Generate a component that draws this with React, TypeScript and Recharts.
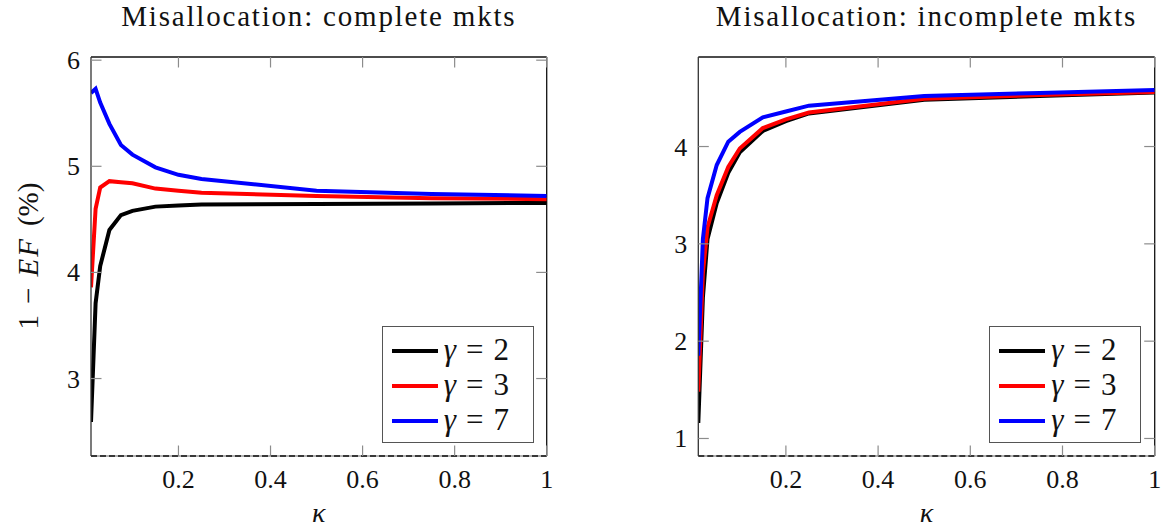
import React from 'react';
import { LineChart, Line, XAxis, YAxis, ReferenceLine } from 'recharts';

const kappa = [0.01, 0.02, 0.03, 0.05, 0.075, 0.1, 0.15, 0.2, 0.25, 0.5, 0.75, 1];

const completeG2 = [2.59, 3.71, 4.06, 4.4, 4.54, 4.58, 4.62, 4.63, 4.64, 4.645, 4.65, 4.655];
const completeG3 = [3.86, 4.6, 4.8, 4.86, 4.85, 4.84, 4.79, 4.77, 4.75, 4.72, 4.7, 4.69];
const completeG7 = [5.69, 5.73, 5.6, 5.4, 5.2, 5.11, 4.99, 4.92, 4.88, 4.77, 4.74, 4.72];

const incompleteG2 = [1.16, 2.45, 3.05, 3.42, 3.73, 3.94, 4.16, 4.26, 4.34, 4.48, 4.52, 4.555];
const incompleteG3 = [1.48, 2.7, 3.17, 3.5, 3.79, 3.98, 4.19, 4.28, 4.35, 4.49, 4.53, 4.56];
const incompleteG7 = [1.85, 3.05, 3.47, 3.81, 4.05, 4.15, 4.3, 4.36, 4.42, 4.52, 4.55, 4.58];

const xTicks = [0.2, 0.4, 0.6, 0.8, 1];
const xTickLabels = ['0.2', '0.4', '0.6', '0.8', '1'];
const completeYTicks = [3, 4, 5, 6];
const incompleteYTicks = [1, 2, 3, 4];
const gammaLabels = ['2', '3', '7'];
const seriesKeys = ['g2', 'g3', 'g7'];
const seriesColors = ['#000000', '#ff0000', '#0000ff'];

const FONT = "'Liberation Serif', serif";
const PLOT_TOP = 57;
const PLOT_BOTTOM = 456;
const PH = PLOT_BOTTOM - PLOT_TOP;
const TICK_LEN = 10.5;
const TICK_COLOR = '#8c8c8c';

function buildRows(a: number[], b: number[], c: number[]) {
  return kappa.map((k, i) => ({ k, g2: a[i], g3: b[i], g7: c[i] }));
}

const textStyle = { fontFamily: FONT, fontSize: 26, fill: '#111' };

function makeXTick(pw: number) {
  return (props: any) => {
    const { x, y, payload } = props;
    const idx = xTicks.indexOf(payload.value);
    const label = idx >= 0 ? xTickLabels[idx] : String(payload.value);
    return (
      <g>
        <line x1={x} x2={x} y1={y} y2={y - TICK_LEN} stroke={TICK_COLOR} strokeWidth={1.2} />
        <line x1={x} x2={x} y1={y - PH} y2={y - PH + TICK_LEN} stroke={TICK_COLOR} strokeWidth={1.2} />
        <text x={x} y={y + 32} textAnchor="middle" style={textStyle}>
          {label}
        </text>
      </g>
    );
  };
}

function makeYTick(pw: number) {
  return (props: any) => {
    const { x, y, payload } = props;
    return (
      <g>
        <line x1={x} x2={x + TICK_LEN} y1={y} y2={y} stroke={TICK_COLOR} strokeWidth={1.2} />
        <line x1={x + pw} x2={x + pw - TICK_LEN} y1={y} y2={y} stroke={TICK_COLOR} strokeWidth={1.2} />
        <text x={x - 11} y={y + 9} textAnchor="end" style={textStyle}>
          {String(payload.value)}
        </text>
      </g>
    );
  };
}

type PanelProps = {
  left: number;
  width: number;
  plotLeft: number;
  plotRight: number;
  title: string;
  yTicks: number[];
  yDomain: [number, number];
  rows: any[];
  legendLeft: number;
};

function Panel(p: PanelProps) {
  const pw = p.plotRight - p.plotLeft;
  const marginRight = p.width - p.plotRight;
  return (
    <div style={{ position: 'absolute', left: p.left, top: 0, width: p.width, height: 529 }}>
      <LineChart
        width={p.width}
        height={529}
        data={p.rows}
        margin={{ top: PLOT_TOP, right: marginRight, bottom: 529 - PLOT_BOTTOM - 40, left: 0 }}
      >
        <ReferenceLine y={p.yDomain[0]} stroke="#9a9a9a" strokeWidth={1.3} />
        <ReferenceLine y={p.yDomain[1]} stroke="#111" strokeWidth={1.3} />
        <ReferenceLine x={1} stroke="#111" strokeWidth={1.3} />
        <XAxis
          dataKey="k"
          type="number"
          domain={[0.01, 1]}
          ticks={xTicks}
          height={40}
          tickLine={false}
          tickSize={0}
          tickMargin={0}
          interval={0}
          allowDataOverflow
          axisLine={{ stroke: '#111', strokeWidth: 1.3, strokeDasharray: '6 3' }}
          tick={makeXTick(pw)}
        />
        <YAxis
          type="number"
          domain={p.yDomain}
          ticks={p.yTicks}
          width={p.plotLeft}
          tickLine={false}
          tickSize={0}
          tickMargin={0}
          interval={0}
          allowDataOverflow
          axisLine={{ stroke: '#333', strokeWidth: 1.3 }}
          tick={makeYTick(pw)}
        />
        {seriesKeys.map((key, i) => (
          <Line
            key={key}
            dataKey={key}
            type="linear"
            stroke={seriesColors[i]}
            strokeWidth={4}
            dot={false}
            activeDot={false}
            isAnimationActive={false}
          />
        ))}
      </LineChart>
      <div
        style={{
          position: 'absolute',
          left: p.plotLeft - 30,
          width: pw + 60,
          top: 2,
          textAlign: 'center',
          fontFamily: FONT,
          fontSize: 29,
          letterSpacing: 1.8,
          lineHeight: '29px',
          color: '#111',
          whiteSpace: 'nowrap',
        }}
      >
        {p.title}
      </div>
      <div
        style={{
          position: 'absolute',
          left: p.plotLeft,
          width: pw,
          top: 499,
          textAlign: 'center',
          fontFamily: FONT,
          fontSize: 28,
          fontStyle: 'italic',
          lineHeight: '27px',
          color: '#111',
        }}
      >
        κ
      </div>
      <div
        style={{
          position: 'absolute',
          left: p.legendLeft,
          top: 326,
          width: 152,
          height: 117,
          boxSizing: 'border-box',
          border: '1.3px solid #555',
          background: '#fff',
        }}
      >
        {gammaLabels.map((g, i) => (
          <div key={g} style={{ position: 'absolute', left: 0, top: 7 + i * 35, height: 35, width: 150 }}>
            <div
              style={{
                position: 'absolute',
                left: 9,
                top: 15,
                width: 46,
                height: 4,
                background: seriesColors[i],
              }}
            />
            <div
              style={{
                position: 'absolute',
                left: 61,
                top: 0,
                fontFamily: FONT,
                fontSize: 31,
                lineHeight: '31px',
                whiteSpace: 'nowrap',
                color: '#111',
              }}
            >
              <span style={{ fontStyle: 'italic' }}>γ</span>
              <span style={{ margin: '0 10px' }}>=</span>
              <span>{g}</span>
            </div>
          </div>
        ))}
      </div>
    </div>
  );
}

export default function App() {
  const completeRows = buildRows(completeG2, completeG3, completeG7);
  const incompleteRows = buildRows(incompleteG2, incompleteG3, incompleteG7);
  return (
    <div
      style={{
        position: 'absolute',
        left: 0,
        top: 0,
        width: 1167,
        height: 529,
        background: '#fff',
        overflow: 'hidden',
      }}
    >
      <Panel
        left={0}
        width={600}
        plotLeft={91}
        plotRight={546.7}
        title="Misallocation: complete mkts"
        yTicks={completeYTicks}
        yDomain={[2.27, 6.03]}
        rows={completeRows}
        legendLeft={381.7}
      />
      <Panel
        left={600}
        width={567}
        plotLeft={98.3}
        plotRight={554.7}
        title="Misallocation: incomplete mkts"
        yTicks={incompleteYTicks}
        yDomain={[0.82, 4.92]}
        rows={incompleteRows}
        legendLeft={389.3}
      />
      <div
        style={{
          position: 'absolute',
          left: 28 - 150,
          top: 256 - 16,
          width: 300,
          height: 32,
          lineHeight: '32px',
          textAlign: 'center',
          transform: 'rotate(-90deg)',
          fontFamily: FONT,
          fontSize: 29,
          color: '#111',
          whiteSpace: 'nowrap',
        }}
      >
        <span>1</span>
        <span style={{ margin: '0 11px' }}>&minus;</span>
        <span style={{ fontStyle: 'italic', letterSpacing: 2 }}>EF</span>
        <span style={{ marginLeft: 11 }}>(%)</span>
      </div>
    </div>
  );
}
